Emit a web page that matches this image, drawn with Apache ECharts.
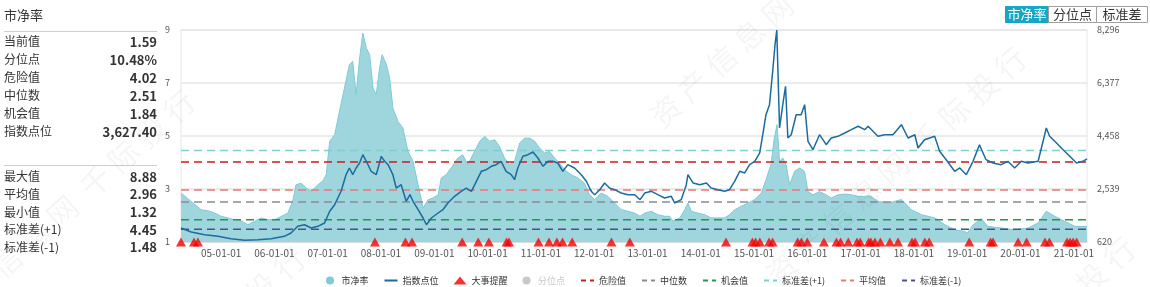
<!DOCTYPE html>
<html><head><meta charset="utf-8">
<script src="https://cdn.jsdelivr.net/npm/echarts@6/dist/echarts.min.js"></script>
<style>html,body{margin:0;padding:0;background:#fff}#c{width:1150px;height:287px}</style>
</head><body><div id="c"></div>
<script>
const startDate = '2004-04-01';
const endDate = '2021-04-01';

const pbDates = ['2004-04-01','2004-06-08','2004-08-17','2004-10-03','2004-11-18','2005-01-01','2005-02-17','2005-04-03','2005-05-18','2005-07-03','2005-08-18','2005-10-03','2005-11-18','2006-01-04','2006-02-18','2006-04-03','2006-05-07','2006-05-29','2006-07-03','2006-08-07','2006-09-11','2006-10-26','2006-11-29','2006-12-22','2007-01-15','2007-02-18','2007-03-23','2007-04-26','2007-05-30','2007-06-22','2007-07-15','2007-08-08','2007-08-30','2007-09-23','2007-10-16','2007-11-08','2007-11-30','2007-12-23','2008-01-09','2008-02-08','2008-03-01','2008-03-23','2008-04-27','2008-05-31','2008-07-04','2008-08-08','2008-09-12','2008-10-16','2008-11-20','2008-12-23','2009-01-27','2009-02-18','2009-03-23','2009-04-26','2009-06-11','2009-07-15','2009-08-19','2009-10-04','2009-11-08','2009-12-12','2010-01-16','2010-02-19','2010-03-23','2010-04-27','2010-06-01','2010-07-05','2010-08-09','2010-09-12','2010-10-16','2010-11-20','2010-12-23','2011-01-27','2011-03-01','2011-04-05','2011-05-09','2011-06-12','2011-07-27','2011-09-12','2011-10-27','2011-12-01','2012-01-05','2012-02-19','2012-04-05','2012-05-20','2012-07-05','2012-08-20','2012-10-05','2012-11-11','2012-12-13','2013-01-28','2013-03-13','2013-04-28','2013-06-02','2013-06-24','2013-08-10','2013-09-13','2013-10-05','2013-10-28','2013-12-13','2014-01-28','2014-03-13','2014-04-28','2014-06-13','2014-07-17','2014-08-21','2014-10-06','2014-11-20','2015-01-06','2015-02-20','2015-03-24','2015-04-27','2015-05-20','2015-06-08','2015-06-25','2015-07-17','2015-08-09','2015-09-02','2015-10-06','2015-11-10','2015-12-13','2016-01-06','2016-02-09','2016-03-25','2016-05-10','2016-06-13','2016-07-29','2016-09-14','2016-10-29','2016-12-14','2017-01-29','2017-03-05','2017-04-29','2017-07-07','2017-10-07','2017-12-14','2018-02-22','2018-05-23','2018-08-01','2018-10-07','2018-12-15','2019-01-03','2019-02-10','2019-04-07','2019-05-22','2019-08-21','2019-11-22','2020-02-22','2020-05-01','2020-06-26','2020-08-23','2020-10-30','2021-01-08','2021-04-01'];
const pbValues = [2.85,2.54,2.22,2.18,2.09,1.97,1.91,1.84,1.80,1.65,1.78,1.91,1.84,1.84,1.97,2.09,2.55,3.16,3.22,3.04,2.92,3.16,3.30,3.54,4.80,5.05,5.93,6.81,7.69,7.82,6.56,7.94,8.88,8.32,8.07,6.81,6.56,7.57,8.07,7.69,7.19,6.06,5.55,5.30,4.43,4.05,3.16,2.28,2.60,2.66,2.78,3.42,3.54,3.79,4.17,4.29,3.92,4.42,4.80,4.99,4.80,4.86,4.61,4.17,3.92,4.05,4.74,4.92,4.92,4.80,4.55,4.36,4.42,4.17,3.98,3.73,3.54,3.42,3.22,2.78,2.60,2.85,2.72,2.47,2.22,2.16,2.09,1.97,2.09,2.16,2.03,1.97,1.97,1.78,1.91,2.22,2.47,2.16,2.09,2.03,1.91,1.91,1.91,2.03,2.22,2.35,2.47,2.60,2.85,3.35,3.92,4.92,5.43,4.05,4.17,3.92,3.16,3.67,3.79,3.67,2.90,2.78,2.90,2.78,2.66,2.78,2.81,2.78,2.72,2.72,2.75,2.54,2.47,2.60,2.22,2.03,1.91,1.65,1.46,1.40,1.34,1.65,1.88,1.59,1.53,1.46,1.53,1.72,2.16,1.97,1.78,1.59,1.59];

const idxDates = ['2004-04-01','2004-06-10','2004-09-10','2004-12-10','2005-03-10','2005-06-10','2005-09-10','2005-12-10','2006-03-10','2006-04-25','2006-06-10','2006-07-26','2006-09-10','2006-10-26','2006-12-11','2007-01-15','2007-02-18','2007-04-03','2007-05-07','2007-05-30','2007-06-22','2007-07-15','2007-08-08','2007-08-30','2007-09-23','2007-10-26','2007-11-30','2008-01-04','2008-01-27','2008-02-19','2008-03-23','2008-04-15','2008-05-19','2008-06-22','2008-07-18','2008-08-08','2008-09-12','2008-10-16','2008-11-08','2008-12-12','2009-01-27','2009-03-01','2009-04-04','2009-05-20','2009-07-04','2009-08-08','2009-09-12','2009-10-16','2009-11-19','2009-12-23','2010-01-27','2010-03-01','2010-04-04','2010-05-08','2010-06-12','2010-07-05','2010-07-27','2010-08-31','2010-10-05','2010-11-08','2010-12-12','2011-01-16','2011-02-19','2011-03-23','2011-04-27','2011-06-01','2011-07-05','2011-08-20','2011-10-05','2011-11-09','2011-12-12','2012-01-05','2012-02-09','2012-03-13','2012-04-16','2012-05-20','2012-07-05','2012-08-20','2012-10-05','2012-11-11','2012-12-13','2013-01-28','2013-03-13','2013-04-28','2013-06-13','2013-07-06','2013-08-20','2013-09-24','2013-10-05','2013-11-09','2013-12-25','2014-02-09','2014-03-13','2014-04-28','2014-06-13','2014-07-17','2014-08-21','2014-09-25','2014-10-29','2014-12-02','2015-01-06','2015-02-09','2015-03-02','2015-03-24','2015-04-17','2015-05-09','2015-05-25','2015-06-06','2015-06-25','2015-07-17','2015-08-05','2015-08-21','2015-09-13','2015-10-17','2015-11-20','2015-12-14','2016-01-06','2016-02-09','2016-03-25','2016-05-10','2016-06-13','2016-07-29','2016-09-14','2016-10-29','2016-12-14','2017-01-29','2017-02-21','2017-04-29','2017-06-14','2017-08-10','2017-10-07','2017-11-22','2018-01-07','2018-01-29','2018-03-15','2018-05-23','2018-06-26','2018-08-10','2018-10-07','2018-11-11','2018-12-26','2019-02-10','2019-03-26','2019-05-10','2019-06-26','2019-08-21','2019-10-07','2019-11-22','2020-01-07','2020-02-22','2020-05-01','2020-06-04','2020-06-26','2020-07-19','2020-09-04','2020-10-19','2020-12-04','2021-01-19','2021-03-04','2021-04-01'];
const idxValues = [1127,982,884,826,740,681,703,740,826,946,1188,1246,1127,1188,1308,1732,1971,2456,3057,3300,3057,3300,3481,3781,3542,3180,3057,3723,3542,3420,3057,2575,2695,2094,2333,2094,1790,1489,1246,1489,1670,1790,2032,2275,2456,2575,2456,2818,3180,3238,3361,3420,3542,3180,3057,2876,3300,3723,3781,3879,3662,3361,3542,3542,3481,3180,3420,3300,3057,2818,2456,2333,2514,2757,2575,2514,2394,2333,2333,2152,2394,2456,2333,2213,2275,2032,2152,2695,3057,2757,2695,2757,2575,2514,2456,2514,2818,3180,3119,3420,3542,3843,4505,5229,5592,6801,7764,8296,4748,5592,6258,4386,4505,5229,5229,5592,4266,3962,4505,4143,4386,4447,4567,4686,4810,4686,4810,4447,4505,4505,4868,4386,4505,4024,4324,4447,3904,3600,3180,3300,3057,3542,4143,3600,3481,3420,3542,3300,3542,3481,3542,4266,4748,4447,4205,3962,3723,3481,3542,3627.40];

const eventDates = ['2004-04-01','2004-06-29','2004-07-26','2007-11-21','2008-06-17','2008-08-01','2009-07-11','2009-10-29','2010-01-10','2010-05-11','2010-05-28','2010-12-16','2011-02-26','2011-04-21','2011-05-30','2011-08-04','2012-04-29','2012-09-02','2014-06-23','2014-12-21','2015-01-12','2015-02-10','2015-04-14','2015-05-08','2015-10-27','2015-11-22','2016-01-01','2016-04-24','2016-07-19','2016-08-16','2016-10-08','2016-12-07','2016-12-29','2017-02-25','2017-03-12','2017-04-09','2017-05-16','2017-07-20','2017-09-14','2017-12-19','2018-01-09','2018-03-17','2018-04-15','2019-01-15','2019-06-10','2019-06-27','2019-12-16','2020-02-12','2020-06-17','2020-07-17','2020-11-15','2020-12-06','2020-12-27','2021-01-20'];

const thresholdNames = ['危险值','中位数','机会值','标准差(+1)','平均值','标准差(-1)'];
const thresholdValues = [4.02, 2.51, 1.84, 4.45, 2.96, 1.48];
const thresholdColors = ['#c81e1e','#8a8a96','#1f9a52','#7fd0cc','#e87878','#48528a'];

const statLabels1 = ['当前值','分位点','危险值','中位数','机会值','指数点位'];
const statValues1 = ['1.59','10.48%','4.02','2.51','1.84','3,627.40'];
const statLabels2 = ['最大值','平均值','最小值','标准差(+1)','标准差(-1)'];
const statValues2 = ['8.88','2.96','1.32','4.45','1.48'];
const tabLabels = ['市净率','分位点','标准差'];
const leftTicks = [1, 9, 2];
const rightTicks = [620, 8296, 1919];

const FF = "'Noto Sans CJK SC','Noto Sans',sans-serif";
const chart = echarts.init(document.getElementById('c'));

const graphics = [];
graphics.push({type:'text', x:4, y:15, style:{text:'市净率', fontSize:13, fill:'#333', fontFamily:FF, verticalAlign:'middle'}});
graphics.push({type:'line', shape:{x1:4,y1:31.5,x2:157,y2:31.5}, style:{stroke:'#cfcfcf', lineWidth:1}});
graphics.push({type:'line', shape:{x1:4,y1:165.5,x2:157,y2:165.5}, style:{stroke:'#cfcfcf', lineWidth:1}});
statLabels1.forEach((t,i)=>{
  const y = 41.7 + i*18;
  graphics.push({type:'text', x:4, y:y, style:{text:t, fontSize:12, fill:'#333', fontFamily:FF, verticalAlign:'middle'}});
  graphics.push({type:'text', x:157, y:y, style:{text:statValues1[i], fontSize:13, fontWeight:'bold', fill:'#333', fontFamily:FF, align:'right', verticalAlign:'middle'}});
});
statLabels2.forEach((t,i)=>{
  const y = 176.7 + i*17.65;
  graphics.push({type:'text', x:4, y:y, style:{text:t, fontSize:12, fill:'#333', fontFamily:FF, verticalAlign:'middle'}});
  graphics.push({type:'text', x:157, y:y, style:{text:statValues2[i], fontSize:13, fontWeight:'bold', fill:'#333', fontFamily:FF, align:'right', verticalAlign:'middle'}});
});
const tabX = [1005, 1048, 1096], tabW = [43, 48, 51];
tabLabels.forEach((t,i)=>{
  const active = i===0;
  graphics.push({type:'rect', shape:{x:tabX[i]+0.5, y:6.5, width:tabW[i], height:16}, style:{fill: active?'#17a6c6':'#fff', stroke: active?'#17a6c6':'#a0a0a0', lineWidth:1}});
  graphics.push({type:'text', x:tabX[i]+tabW[i]/2+0.5, y:14.5, style:{text:t, fontSize:13, fill: active?'#fff':'#333', fontFamily:FF, align:'center', verticalAlign:'middle'}});
});
const wm = '资\u2005产\u2005信\u2005息\u2005网\u2005\u2005千\u2005际\u2005投\u2005行';
[[65,209],[175,366],[780,8],[896,166],[1005,356]].forEach(p=>{
  graphics.push({type:'text', x:p[0], y:p[1], rotation:42*Math.PI/180, z:100, silent:true,
    style:{text:wm, fontSize:30, fill:'rgba(0,0,0,0.04)', fontFamily:FF, align:'center', verticalAlign:'middle'}});
});

const series = [];
series.push({name:'市净率', type:'line', yAxisIndex:0, z:1, symbol:'none', showSymbol:false,
  data: pbDates.map((d,i)=>[d, pbValues[i]]),
  lineStyle:{color:'#7ecbd5', width:1}, itemStyle:{color:'#7ecbd5'},
  areaStyle:{color:'#9fd6de', opacity:1}});
thresholdNames.forEach((n,i)=>{
  series.push({name:n, type:'line', yAxisIndex:0, z:2, symbol:'none', showSymbol:false,
    data:[[startDate, thresholdValues[i]],[endDate, thresholdValues[i]]],
    lineStyle:{color:thresholdColors[i], width:1.5, type:[8,5]}, itemStyle:{color:thresholdColors[i]}});
});
series.push({name:'指数点位', type:'line', yAxisIndex:1, z:3, symbol:'none', showSymbol:false,
  data: idxDates.map((d,i)=>[d, idxValues[i]]),
  lineStyle:{color:'#1d6b9e', width:1.5}, itemStyle:{color:'#1d6b9e'}});
series.push({name:'大事提醒', type:'scatter', yAxisIndex:0, z:4, symbol:'triangle', symbolSize:[10,9],
  data: eventDates.map(d=>[d, leftTicks[0]]), itemStyle:{color:'#f40000'}});
series.push({name:'分位点', type:'line', yAxisIndex:0, symbol:'circle', data:[], itemStyle:{color:'#999'}});

const fmtNum = v => String(v).replace(/\B(?=(\d{3})+(?!\d))/g, ',');
const hideDot = {opacity:0};
const legendData = [
  {name:'市净率', icon:'circle'},
  {name:'指数点位', itemStyle:hideDot, lineStyle:{width:2}},
  {name:'大事提醒', icon:'triangle'},
  {name:'分位点', icon:'circle'}
].concat(thresholdNames.map(n=>({name:n, itemStyle:hideDot, lineStyle:{width:2, type:[5,4]}})));

chart.setOption({
  animation:false,
  textStyle:{fontFamily:FF},
  grid:{left:181, top:30, right:63, bottom:45, show:true, borderColor:'#e6e6e6', borderWidth:1},
  legend:{left:321, top:271, itemWidth:13, itemHeight:8, itemGap:15,
    textStyle:{fontSize:9, color:'#333', fontFamily:FF},
    inactiveColor:'#c8c8c8',
    selected:{'分位点':false},
    data:legendData},
  xAxis:{type:'time', min:startDate, max:endDate,
    minInterval:365*24*3600*1000, maxInterval:366*24*3600*1000,
    axisLine:{show:true, lineStyle:{color:'#dcdcdc'}}, axisTick:{show:false}, splitLine:{show:false},
    axisLabel:{fontSize:10, color:'#555', margin:6, hideOverlap:false, showMinLabel:false, showMaxLabel:false,
      formatter:function(v){const d=new Date(v); return String(d.getFullYear()).slice(2)+'-01-01';}}},
  yAxis:[
    {type:'value', min:leftTicks[0], max:leftTicks[1], interval:leftTicks[2], position:'left',
      axisLine:{show:false}, axisTick:{show:false},
      splitLine:{show:true, lineStyle:{color:'#e6e6e6', width:1.5}},
      axisLabel:{fontSize:9, color:'#555', margin:11}},
    {type:'value', min:rightTicks[0], max:rightTicks[1], interval:rightTicks[2], position:'right',
      axisLine:{show:false}, axisTick:{show:false}, splitLine:{show:false},
      axisLabel:{fontSize:9, color:'#555', margin:10, formatter:fmtNum}}
  ],
  graphic: graphics,
  series: series
});
</script></body></html>
